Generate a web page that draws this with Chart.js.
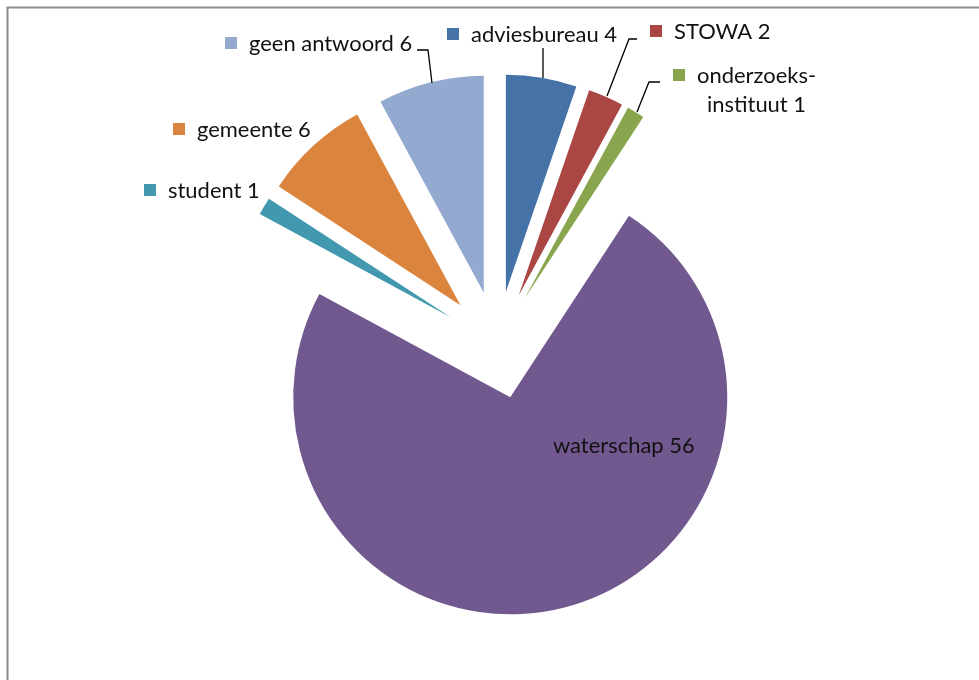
<!DOCTYPE html>
<html>
<head>
<meta charset="utf-8">
<title>Respondenten per organisatie</title>
<script src="https://cdn.jsdelivr.net/npm/chart.js@4/dist/chart.umd.min.js"></script>
<style>
  html, body { margin: 0; padding: 0; background: #ffffff; }
  canvas { display: block; }
</style>
</head>
<body>
<canvas id="pie" width="979" height="680"></canvas>
<script>
// Respondents by type of organisation (clockwise from 12 o'clock)
const categories = ['adviesbureau', 'STOWA', ['onderzoeks-', 'instituut'], 'waterschap', 'student', 'gemeente', 'geen antwoord'];
const counts = [4, 2, 1, 56, 1, 6, 6];
const sliceColors = ['#4572A7', '#AA4643', '#89A54E', '#71588F', '#4198AF', '#DB843D', '#93A9CF'];

// Where each data label sits: text origin (left, baseline) per line, optional leader polyline
const labelLayout = [
  { text: [[471, 42]], leader: [[543, 48], [543, 78]] },
  { text: [[674, 39]], leader: [[637, 39], [629, 39], [607, 96]] },
  { text: [[697, 83], [707, 112]], leader: [[660, 82], [649, 82], [637, 112]] },
  { text: [[553, 453]], noKey: true },
  { text: [[168, 198]] },
  { text: [[197, 137]] },
  { text: [[249, 51]], leader: [[417, 50], [428, 50], [432, 83]] }
];

// Thin grey chart-area frame along the top and left edges
const framePlugin = {
  id: 'frame',
  beforeDraw(chart) {
    const ctx = chart.ctx;
    ctx.save();
    ctx.strokeStyle = '#8c8c8c';
    ctx.lineWidth = 2;
    ctx.beginPath();
    ctx.moveTo(7.5, chart.height);
    ctx.lineTo(7.5, 7.5);
    ctx.lineTo(chart.width, 7.5);
    ctx.stroke();
    ctx.restore();
  }
};

// Pull every slice outwards along its bisector (exploded pie)
const explodePlugin = {
  id: 'explode',
  afterDatasetUpdate(chart, args, opts) {
    const d = opts.distance || 0;
    args.meta.data.forEach(arc => {
      const mid = (arc.startAngle + arc.endAngle) / 2;
      arc.x += Math.cos(mid) * d;
      arc.y += Math.sin(mid) * d;
    });
  }
};

// Data labels: legend key square + "name value", with leader lines
const sliceLabelPlugin = {
  id: 'sliceLabels',
  afterDatasetsDraw(chart, args, opts) {
    const ctx = chart.ctx;
    const ds = chart.data.datasets[0];
    ctx.save();
    // size the label font so a reference string has the wanted width
    ctx.font = '100px ' + opts.family;
    const size = 100 * opts.fitWidth / ctx.measureText(opts.fitText).width;
    ctx.font = size.toFixed(2) + 'px ' + opts.family;
    ctx.textBaseline = 'alphabetic';
    ctx.textAlign = 'left';

    chart.data.labels.forEach((name, i) => {
      const spot = opts.layout[i];
      const lines = [].concat(name);
      lines[lines.length - 1] = lines[lines.length - 1] + ' ' + ds.data[i];

      if (spot.leader) {
        ctx.strokeStyle = '#000000';
        ctx.lineWidth = 1.3;
        ctx.beginPath();
        spot.leader.forEach(([x, y], k) => (k ? ctx.lineTo(x, y) : ctx.moveTo(x, y)));
        ctx.stroke();
      }

      const [x0, y0] = spot.text[0];
      if (!spot.noKey) {
        ctx.fillStyle = ds.backgroundColor[i];
        ctx.fillRect(x0 - 24, y0 - 14, 12, 12);
      }
      ctx.fillStyle = '#111111';
      lines.forEach((line, k) => {
        const [x, y] = spot.text[k];
        ctx.fillText(line, x, y);
      });
    });
    ctx.restore();
  }
};

new Chart(document.getElementById('pie'), {
  type: 'pie',
  data: {
    labels: categories,
    datasets: [{
      data: counts,
      backgroundColor: sliceColors,
      borderWidth: 0,
      radius: 217
    }]
  },
  options: {
    responsive: false,
    animation: false,
    events: [],
    layout: { padding: { left: 15, right: 0, top: 10, bottom: 0 } },
    plugins: {
      legend: { display: false },
      tooltip: { enabled: false },
      explode: { distance: 54 },
      sliceLabels: {
        family: 'Lato, "Open Sans", "Liberation Sans", sans-serif',
        fitText: 'adviesbureau 4',
        fitWidth: 146,
        layout: labelLayout
      }
    }
  },
  plugins: [framePlugin, explodePlugin, sliceLabelPlugin]
});
</script>
</body>
</html>
